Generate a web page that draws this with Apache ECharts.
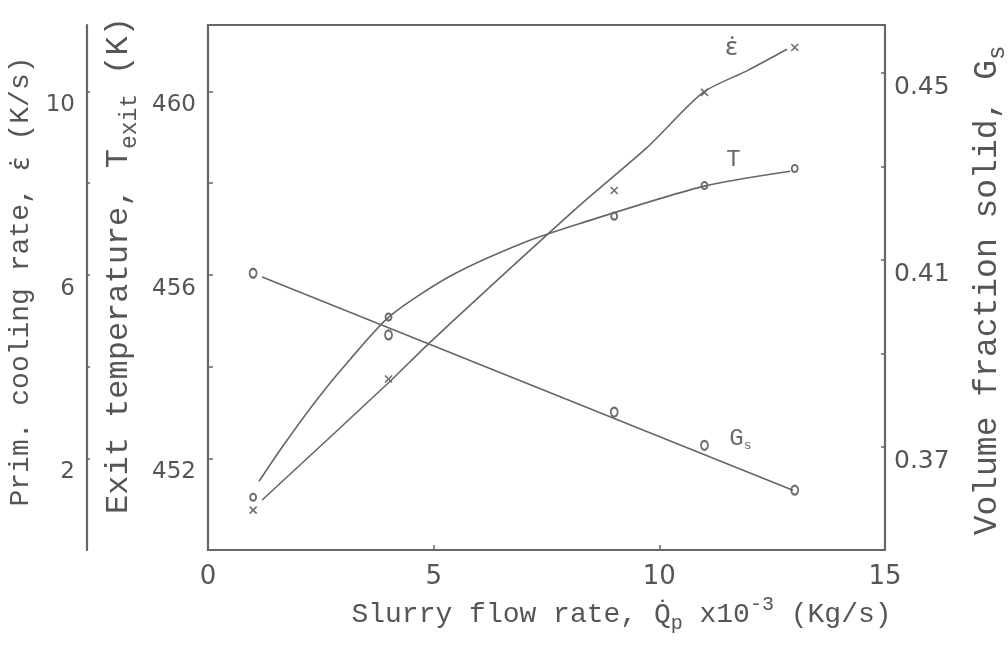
<!DOCTYPE html>
<html>
<head>
<meta charset="utf-8">
<script src="https://cdn.jsdelivr.net/npm/echarts@6/dist/echarts.min.js"></script>
<style>
  html, body { margin: 0; padding: 0; background: #fff; }
  #chart { width: 1008px; height: 647px; }
</style>
</head>
<body>
<div id="chart"></div>
<script>
// Slurry flow rate of each run (x 10^-3 kg/s)
const flowRate = [1, 4, 9, 11, 13];
// Measured primary cooling rate (K/s), exit temperature (K), volume fraction solid
const coolingRate = [0.87, 3.73, 7.84, 9.98, 10.96];
const exitTemp = [451.15, 455.08, 457.28, 457.95, 458.32];
const solidFraction = [0.4072, 0.394, 0.3775, 0.3704, 0.3608];

// Faired curves through the measurements
const coolingCurveX = [1.2, 3.97, 4.92, 8.24, 9.73, 10.97, 11.94, 12.83];
const coolingCurveY = [1.09, 3.62, 4.53, 7.52, 8.78, 9.98, 10.45, 10.92];
const tempCurveX = [1.13, 1.66, 2.42, 3.15, 4.03, 5.36, 6.91, 8.24, 10.97, 12.9];
const tempCurveY = [451.5, 452.27, 453.29, 454.16, 455.1, 455.97, 456.67, 457.12, 457.93, 458.26];
const solidCurveX = [1.2, 12.96];
const solidCurveY = [0.4064, 0.3608];

// Tick values
const xTicks = [0, 5, 10, 15];
const xInnerTicks = [5, 10];
const coolingTicks = [2, 6, 10];
const coolingMinor = [2, 4, 6, 8, 10];
const tempTicks = [452, 456, 460];
const tempMinor = [452, 454, 456, 458, 460];
const solidTicks = [0.37, 0.41, 0.45];
const solidMinor = [0.37, 0.39, 0.41, 0.43, 0.45];

const ink = '#555';
const lineInk = '#666';
const numFont = 'DejaVu Sans';
const typeFont = 'Liberation Mono';
const greekFont = 'Noto Sans';

const zip = (xs, ys) => xs.map((x, i) => [x, ys[i]]);
const labelIndex = 3;

const labelRich = {
  b: { fontFamily: typeFont, fontSize: 24, color: '#444' },
  g: { fontFamily: greekFont, fontSize: 26, color: '#444' },
  s: { fontFamily: typeFont, fontSize: 13, color: '#444', padding: [14, 0, 0, 0] }
};

function markers(ys, text, offset) {
  return flowRate.map((x, i) => {
    const item = { value: [x, ys[i]] };
    if (i === labelIndex) {
      item.label = {
        show: true, position: 'inside', offset: offset, formatter: text,
        color: '#444', fontFamily: typeFont, fontSize: 24, rich: labelRich
      };
    }
    return item;
  });
}

const titleRich = (size) => ({
  a: { fontFamily: typeFont, fontSize: size, color: ink, lineHeight: Math.round(size * 1.4) },
  g: { fontFamily: greekFont, fontSize: size, color: ink, lineHeight: Math.round(size * 1.4) },
  sub: { fontFamily: typeFont, fontSize: Math.round(size * 0.72), color: ink, lineHeight: 12, verticalAlign: 'bottom' },
  sup: { fontFamily: typeFont, fontSize: Math.round(size * 0.72), color: ink, lineHeight: 12, verticalAlign: 'top' }
});

const tickLabel = (size, margin) => ({
  fontFamily: numFont, fontSize: size, color: ink, margin: margin,
  verticalAlign: 'top', lineHeight: 18, padding: [5, 0, 0, 0]
});

const chart = echarts.init(document.getElementById('chart'));
chart.setOption({
  backgroundColor: '#fff',
  animation: false,
  grid: {
    left: 208, right: 123, top: 25, bottom: 97,
    outerBoundsMode: 'none', containLabel: false,
    show: true, borderColor: lineInk, borderWidth: 2.2, backgroundColor: 'transparent'
  },
  xAxis: {
    type: 'value', min: 0, max: 15,
    axisLine: { show: false },
    splitLine: { show: false },
    axisTick: { inside: true, length: 5, customValues: xInnerTicks, lineStyle: { color: lineInk, width: 1.5 } },
    axisLabel: { customValues: xTicks, fontFamily: numFont, fontSize: 26, color: ink, margin: 14 },
    name: '{a|Slurry flow rate, Q\u0307}{sub|p}{a| x10}{sup|-3}{a| (Kg/s)}',
    nameLocation: 'middle',
    nameGap: 41,
    nameTextStyle: { padding: [0, 0, 0, 150], rich: titleRich(28) }
  },
  yAxis: [
    {
      type: 'value', position: 'left', min: 450, max: 461.45,
      axisLine: { show: false },
      splitLine: { show: false },
      axisTick: { inside: true, length: 5, customValues: tempMinor, lineStyle: { color: lineInk, width: 1.5 } },
      axisLabel: Object.assign({ customValues: tempTicks }, tickLabel(23, 12)),
      name: '{a|Exit temperature, T}{sub|exit}{a| (K)}',
      nameLocation: 'middle', nameRotate: 90, nameGap: 62,
      nameTextStyle: { padding: [0, 0, 0, 44], rich: titleRich(32) }
    },
    {
      type: 'value', position: 'left', offset: 121, min: 0, max: 11.45,
      axisLine: { show: true, lineStyle: { color: lineInk, width: 2.2 } },
      splitLine: { show: false },
      axisTick: { inside: true, length: 3, customValues: coolingMinor, lineStyle: { color: lineInk, width: 1.5 } },
      axisLabel: Object.assign({ customValues: coolingTicks }, tickLabel(23, 12)),
      name: '{a|Prim. cooling rate, }{g|\u03b5\u0307}{a| (K/s)}',
      nameLocation: 'middle', nameRotate: 90, nameGap: 36,
      nameTextStyle: { padding: [0, 0, 0, 12], rich: titleRich(28) }
    },
    {
      type: 'value', position: 'right', min: 0.348, max: 0.4603,
      axisLine: { show: false },
      splitLine: { show: false },
      axisTick: { inside: true, length: 4, customValues: solidMinor, lineStyle: { color: lineInk, width: 1.5 } },
      axisLabel: Object.assign({ customValues: solidTicks }, tickLabel(25, 9)),
      name: '{a|Volume fraction solid, G}{sub|s}',
      nameLocation: 'middle', nameRotate: 90, nameGap: 79,
      nameTextStyle: { padding: [0, 6, 0, 0], rich: titleRich(33) }
    }
  ],
  series: [
    {
      name: 'cooling rate curve', type: 'line', yAxisIndex: 1, smooth: 0.25,
      showSymbol: false, data: zip(coolingCurveX, coolingCurveY),
      lineStyle: { color: lineInk, width: 1.6 }
    },
    {
      name: 'exit temperature curve', type: 'line', yAxisIndex: 0, smooth: 0.25,
      showSymbol: false, data: zip(tempCurveX, tempCurveY),
      lineStyle: { color: lineInk, width: 1.6 }
    },
    {
      name: 'solid fraction curve', type: 'line', yAxisIndex: 2,
      showSymbol: false, data: zip(solidCurveX, solidCurveY),
      lineStyle: { color: lineInk, width: 1.6 }
    },
    {
      name: 'cooling rate', type: 'scatter', yAxisIndex: 1,
      symbol: 'path://M0,0L10,10M10,0L0,10', symbolSize: 7,
      itemStyle: { color: 'transparent', borderColor: '#4a4a4a', borderWidth: 1.6 },
      data: markers(coolingRate, '{g|\u03b5\u0307}', [27, -45])
    },
    {
      name: 'exit temperature', type: 'scatter', yAxisIndex: 0,
      symbol: 'emptyCircle', symbolSize: [6, 7],
      itemStyle: { color: '#4a4a4a', borderWidth: 1.8 },
      data: markers(exitTemp, '{b|T}', [29, -26])
    },
    {
      name: 'solid fraction', type: 'scatter', yAxisIndex: 2,
      symbol: 'emptyCircle', symbolSize: [7, 9],
      itemStyle: { color: '#4a4a4a', borderWidth: 1.8 },
      data: markers(solidFraction, '{b|G}{s|s}', [36, -7])
    }
  ]
});
</script>
</body>
</html>
